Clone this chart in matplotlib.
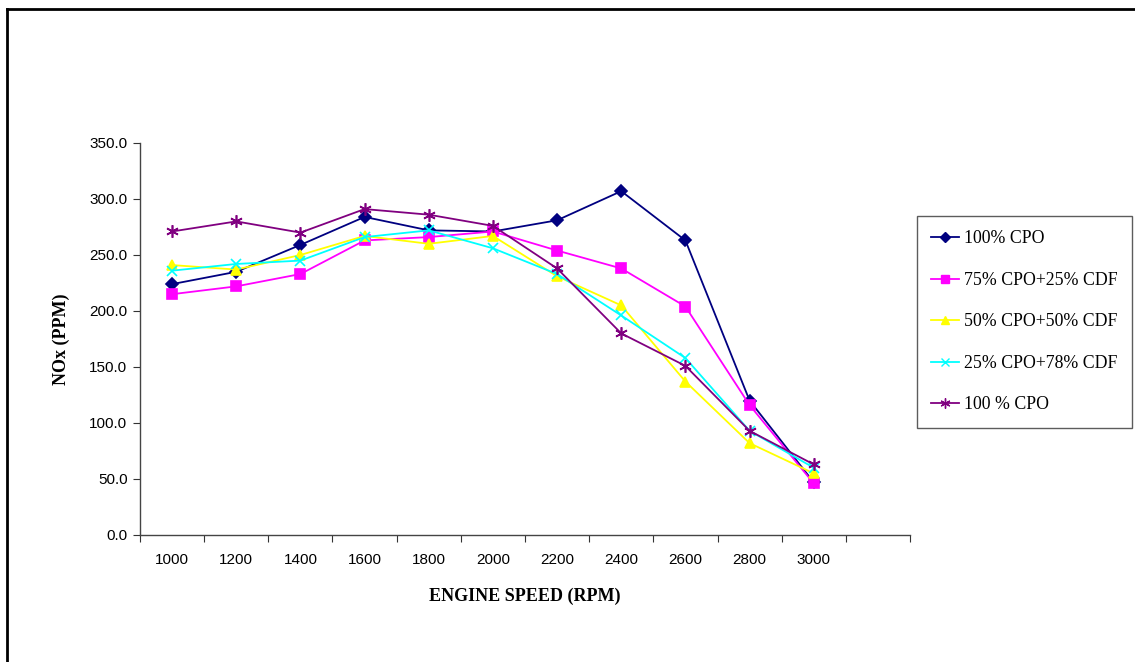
import numpy as np
import matplotlib.pyplot as plt
from matplotlib.lines import Line2D

# Datos
rpm = ['1000', '1200', '1400', '1600', '1800', '2000', '2200', '2400', '2600', '2800', '3000']
cpo100 = [224, 235, 259, 284, 272, 271, 281, 307, 263, 120, 47]
cpo75 = [215, 222, 233, 263, 266, 271, 254, 238, 204, 116, 46]
cpo50 = [241, 237, 250, 267, 260, 267, 231, 205, 137, 82, 55]
cpo25 = [236, 242, 245, 266, 272, 256, 233, 196, 158, 93, 60]
cpo100b = [271, 280, 270, 291, 286, 276, 238, 180, 151, 93, 63]

series = [
    (cpo100, '100% CPO', '#000080', 'D', 6),
    (cpo75, '75% CPO+25% CDF', '#FF00FF', 's', 6.5),
    (cpo50, '50% CPO+50% CDF', '#FFFF00', '^', 7),
    (cpo25, '25% CPO+78% CDF', '#00FFFF', 'x', 7),
    (cpo100b, '100 % CPO', '#800080', (6, 2, 0), 9),
]

fig = plt.figure(figsize=(11.35, 6.62), dpi=100)
ax = fig.add_axes([140 / 1135, 1 - 535 / 662, 770 / 1135, 392 / 662])

x = np.arange(len(rpm))
handles = []
for vals, lab, col, mk, ms in series:
    ax.plot(x, vals, color=col, lw=1.3, marker=mk, markersize=ms,
            markeredgecolor=col, markerfacecolor=col, markeredgewidth=1.2)
    handles.append(Line2D([], [], color=col, lw=1.3, marker=mk, markersize=ms * 0.8,
                          markeredgecolor=col, markerfacecolor=col))

ax.set_xlim(-0.5, 11.5)
ax.set_ylim(0, 350)
ax.set_yticks(np.arange(0, 351, 50))
ax.set_yticklabels([f'{v:.1f}' for v in np.arange(0, 351, 50)], fontfamily='Liberation Sans', fontsize=11)
ax.set_xticks(np.arange(-0.5, 12, 1))
ax.set_xticklabels([])
ax.set_xticks(x, minor=True)
ax.set_xticklabels(rpm, minor=True, fontfamily='Liberation Sans', fontsize=11)
ax.tick_params(axis='x', which='minor', length=0, pad=13)
ax.tick_params(axis='x', which='major', length=5, color='#333333')
ax.tick_params(axis='y', length=5, color='#333333', pad=4)

for s in ['top', 'right']:
    ax.spines[s].set_visible(False)
for s in ['left', 'bottom']:
    ax.spines[s].set_color('#444444')
    ax.spines[s].set_linewidth(1.0)

ax.set_xlabel('ENGINE SPEED (RPM)', fontfamily='Liberation Serif', fontweight='bold', fontsize=13, labelpad=15)
ax.set_ylabel('NOx (PPM)', fontfamily='Liberation Serif', fontweight='bold', fontsize=13, labelpad=14)

leg = fig.legend(handles, [s[1] for s in series], loc='upper left',
                 bbox_to_anchor=(917 / 1135, 1 - 216 / 662),
                 prop={'family': 'Liberation Serif', 'size': 12.8},
                 frameon=True, fancybox=False, edgecolor='#333333',
                 handlelength=1.55, handletextpad=0.3, labelspacing=1.38,
                 borderpad=0.8, borderaxespad=0)
leg.get_frame().set_linewidth(1.0)

# borde del área del gráfico
fig.add_artist(Line2D([7 / 1135, 7 / 1135], [0, 1 - 9 / 662], color='black', lw=2, transform=fig.transFigure))
fig.add_artist(Line2D([7 / 1135, 1], [1 - 9 / 662, 1 - 9 / 662], color='black', lw=2, transform=fig.transFigure))

fig.savefig('out.png', dpi=100)
